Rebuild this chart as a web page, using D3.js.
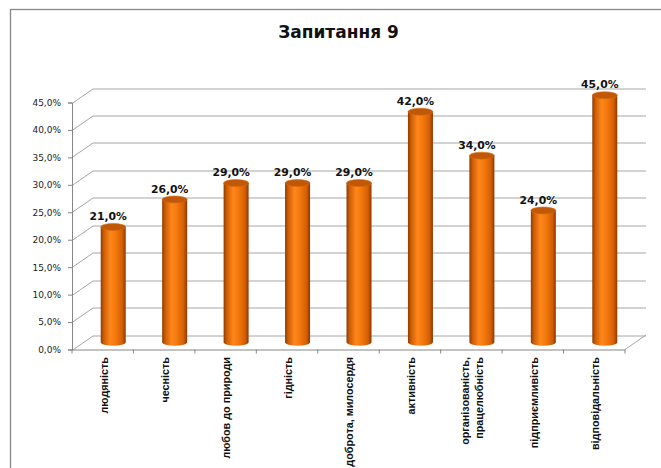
<!DOCTYPE html>
<html><head><meta charset="utf-8">
<script src="https://cdn.jsdelivr.net/npm/d3@7"></script>
<style>html,body{margin:0;padding:0;background:#fff;overflow:hidden}</style>
</head><body>
<svg id="c" width="661" height="468"></svg>
<script>
const categories = ["людяність","чесність","любов до природи","гідність","доброта, милосердя","активність","організованість, працелюбність","підприємливість","відповідальність"];
const values = [0.21,0.26,0.29,0.29,0.29,0.42,0.34,0.24,0.45];
const yTicks = [0,0.05,0.10,0.15,0.20,0.25,0.30,0.35,0.40,0.45];
const title = "Запитання 9";

const svg = d3.select("#c");
const DX = 21, DY = -14.5;
const x = d3.scaleBand().domain(categories).range([72, 625]).padding(0);
const y = d3.scaleLinear().domain([0, 0.45]).range([349.5, 102.5]);
const fmt = d => d3.format(".1f")(d*100).replace(".", ",") + "%";

svg.append("rect").attr("x",10.5).attr("y",9.5).attr("width",700).attr("height",500)
  .attr("fill","#fff").attr("stroke","#868686").attr("stroke-width",1.3);

svg.append("text").attr("x",338.5).attr("y",38).attr("text-anchor","middle")
  .attr("font-family","DejaVu Sans").attr("font-weight","bold").attr("font-size",17)
  .attr("fill","#111").text(title);

const grid = svg.append("g").attr("stroke","#a6a6a6").attr("stroke-width",1).attr("fill","none");
yTicks.forEach(t => {
  const yy = Math.round(y(t))+0.5;
  grid.append("line").attr("x1",72).attr("y1",yy).attr("x2",72+DX).attr("y2",yy+DY);
  grid.append("line").attr("x1",72+DX).attr("y1",yy+DY).attr("x2",625+DX).attr("y2",yy+DY);
});
// floor
grid.append("line").attr("x1",625).attr("y1",349.5).attr("x2",625+DX).attr("y2",349.5+DY);

// y axis
const ya = svg.append("g").attr("transform","translate(72,0)")
  .call(d3.axisLeft(y).tickValues(yTicks).tickFormat(fmt).tickSize(4).tickPadding(7));
ya.selectAll("path,line").attr("stroke","#868686");
ya.selectAll("text").attr("font-family","DejaVu Sans").attr("font-size",9).attr("fill","#222");

// x axis
const xa = svg.append("g").attr("transform","translate(0,349.5)")
  .call(d3.axisBottom(x).tickSize(0).tickFormat(""));
xa.select("path").attr("stroke","#868686");
const bounds = d3.range(categories.length+1).map(i => 72 + i*x.bandwidth());
xa.selectAll("line.b").data(bounds).enter().append("line").attr("class","b")
  .attr("x1",d=>d).attr("x2",d=>d).attr("y1",0).attr("y2",4).attr("stroke","#868686");

// gradient
const defs = svg.append("defs");
const g = defs.append("linearGradient").attr("id","cyl").attr("x1","0").attr("x2","1").attr("y1","0").attr("y2","0");
[["0%","#8e3a00"],["12%","#cc5c05"],["38%","#ff861a"],["58%","#f47a0e"],["86%","#d45e05"],["100%","#8a3800"]]
  .forEach(s=>g.append("stop").attr("offset",s[0]).attr("stop-color",s[1]));

const RX = 12.5, RY = 3.5;
const bars = svg.append("g");
categories.forEach((c,i) => {
  const cx = x(c) + x.bandwidth()/2 + DX/2;
  const yb = y(0) + DY/2;
  const yt = y(values[i]) + DY/2;
  const bg = bars.append("g");
  bg.append("path")
    .attr("d",`M${cx-RX},${yt} L${cx-RX},${yb} A${RX},${RY} 0 0 0 ${cx+RX},${yb} L${cx+RX},${yt} Z`)
    .attr("fill","url(#cyl)");
  bg.append("ellipse").attr("cx",cx).attr("cy",yt).attr("rx",RX).attr("ry",RY)
    .attr("fill","#c05808").attr("stroke","#d86a10").attr("stroke-width",0.6);
  bars.append("text").attr("x",cx-5).attr("y",yt-7).attr("text-anchor","middle")
    .attr("font-family","DejaVu Sans").attr("font-weight","bold").attr("font-size",10.8)
    .attr("fill","#111").text(fmt(values[i]));
});

// category labels
const labs = svg.append("g");
categories.forEach((c) => {
  const cx = x(c) + x.bandwidth()/2 + 1;
  const parts = c === "організованість, працелюбність" ? ["організованість,","працелюбність"] : [c];
  const t = labs.append("text").attr("transform",`translate(${cx},357) rotate(-90)`)
    .attr("text-anchor","end").attr("font-family","Liberation Sans").attr("font-weight","bold")
    .attr("font-size",10.8).attr("fill","#111");
  parts.forEach((p,k) => {
    const off = parts.length === 1 ? 0.35 : (k === 0 ? -0.3 : 1.0);
    t.append("tspan").attr("x",0).attr("y",0).attr("dy",off+"em").text(p);
  });
});
</script>
</body></html>
